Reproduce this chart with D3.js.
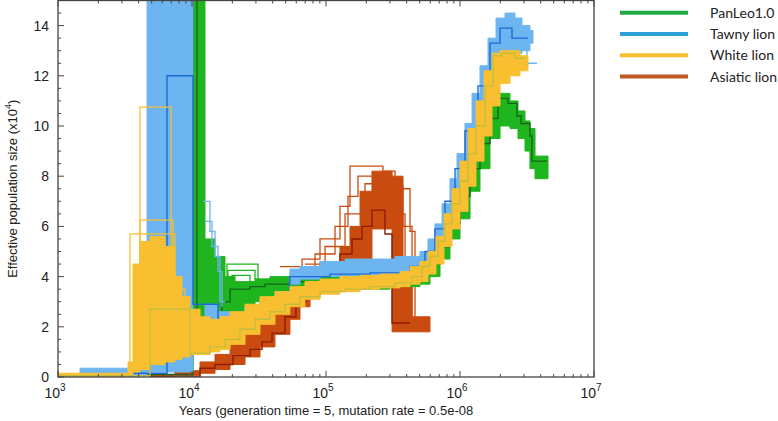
<!DOCTYPE html>
<html>
<head>
<meta charset="utf-8">
<script src="https://cdn.jsdelivr.net/npm/d3@7"></script>
<style>
  body { margin: 0; background: #fff; }
  svg { display: block; }
</style>
</head>
<body>
<div id="chart"></div>
<script>
// PSMC curves: time in years, Ne in units of 10^4, step-after
// bootstrap spread is kept as a low / high band per population

var tawnyBandT  = [1460, 3760, 4620, 10170, 12500, 15640, 19230, 24870, 32170, 41610, 53830, 63970, 90190, 138700, 213000, 327500, 423600, 502700, 576800, 650000, 734400, 841700, 950000, 1089000, 1230000, 1410000, 1618000, 1857000, 2168000, 2572000, 2901000, 3327000, 3506000];
var tawnyLo     = [0.03, 0.05, 0.2, 2.2, 2.3, 2.2, 2.0, 2.3, 2.6, 3.0, 3.7, 3.9, 4.0, 4.05, 4.05, 4.1, 4.2, 4.0, 4.3, 4.8, 5.4, 6.0, 6.8, 7.8, 8.9, 10.0, 11.2, 12.3, 12.8, 12.9, 13.0, 13.3, 13.3];
var tawnyHi     = [0.35, 0.4, 16, 2.2, 2.9, 2.6, 2.5, 2.8, 3.1, 3.4, 4.3, 4.4, 4.6, 4.7, 4.7, 4.8, 4.8, 5.0, 5.5, 6.1, 6.9, 7.9, 8.9, 10.1, 11.3, 12.4, 13.5, 14.3, 14.5, 14.3, 14.0, 13.8, 13.8];
var tawnyT      = [1000, 3445, 6510, 10170, 15640, 19230, 24870, 32170, 41610, 53830, 107100, 213000, 423600, 548300, 650000, 772700, 918000, 1089000, 1362000, 1675000, 1990000, 2443000, 3216000];
var tawnyNe     = [0.08, 0.15, 12, 2.9, 2.35, 2.3, 2.6, 2.9, 3.2, 4.0, 4.1, 4.15, 4.4, 5.0, 5.9, 7.0, 8.3, 9.8, 11.6, 13.3, 13.9, 13.5, 13.5];
var tawnyExtra  = [
  { t: [12080, 13620, 14850, 16180, 17630], ne: [7.0, 5.8, 4.8, 3.0, 3.0] },
  { t: [12500, 14100, 15640, 16750],        ne: [6.2, 5.2, 4.2, 2.8] },
  { t: [2443000, 2901000, 3162000, 3758000], ne: [13.8, 13.2, 12.5, 12.5] }
];

var greenBandT  = [10170, 12500, 14850, 17630, 20960, 29530, 38190, 53830, 76030, 107100, 179500, 300600, 423600, 502700, 597000, 709500, 841700, 1000000, 1188000, 1410000, 1675000, 1990000, 2362000, 2709000, 3055000, 3327000, 3630000, 4537000];
var greenLo     = [1.4, 1.5, 1.6, 2.0, 2.6, 3.0, 3.2, 3.3, 3.4, 3.5, 3.5, 3.6, 3.6, 3.7, 4.0, 4.7, 5.5, 6.3, 7.4, 8.3, 9.5, 10.0, 9.9, 9.5, 9.0, 8.3, 7.9, 7.9];
var greenHi     = [16, 5.5, 4.8, 4.0, 3.8, 3.9, 4.0, 4.1, 4.1, 4.1, 4.1, 4.2, 4.3, 4.6, 5.0, 5.8, 6.8, 8.0, 9.2, 10.2, 11.0, 11.3, 11.0, 10.6, 10.2, 9.9, 8.8, 8.8];
var greenT      = [1000, 3445, 10170, 10890, 14100, 16750, 19230, 27100, 35060, 53830, 107100, 213000, 423600, 597000, 709500, 841700, 1000000, 1188000, 1410000, 1675000, 1922000, 2282000, 2661000, 2851000, 3327000, 3444000, 4458000];
var greenNe     = [0.05, 0.1, 16, 1.6, 2.4, 3.0, 3.5, 3.6, 3.7, 3.8, 3.8, 3.8, 4.1, 4.5, 5.2, 6.1, 7.2, 8.3, 9.3, 10.3, 11.1, 10.9, 10.4, 10.1, 9.6, 8.6, 8.6];
var greenExtra  = [
  { t: [14850, 18250, 31090, 41610], ne: [3.6, 4.5, 3.8, 3.8] },
  { t: [15640, 18570, 29530, 38190], ne: [3.5, 4.25, 3.9, 3.9] },
  { t: [16180, 19890, 27100, 35060], ne: [3.4, 4.05, 3.7, 3.7] }
];

var whiteBandT  = [1000, 3330, 3628, 4092, 4860, 6290, 7460, 8420, 9660, 11480, 13620, 16180, 19230, 24870, 32170, 41610, 53830, 69660, 90190, 127100, 179500, 252900, 356500, 423600, 502700, 576800, 662000, 760000, 871000, 1000000, 1148000, 1316000, 1510000, 1734000, 1990000, 2362000, 2805000, 3216000];
var whiteLo     = [0.0, 0.05, 0.2, 0.3, 0.5, 0.6, 0.7, 0.8, 0.9, 0.9, 1.0, 1.1, 1.3, 1.7, 2.1, 2.5, 2.8, 3.1, 3.3, 3.4, 3.5, 3.55, 3.6, 3.7, 3.8, 4.1, 4.5, 5.2, 5.9, 6.6, 7.6, 8.6, 9.6, 10.8, 11.7, 12.0, 12.2, 12.2];
var whiteHi     = [0.15, 0.6, 4.5, 5.4, 5.6, 5.2, 4.0, 3.2, 2.7, 2.4, 2.3, 2.4, 2.6, 2.9, 3.2, 3.4, 3.6, 3.8, 3.9, 4.0, 4.05, 4.1, 4.2, 4.4, 4.6, 5.0, 5.6, 6.5, 7.5, 8.6, 9.9, 11.0, 12.2, 12.9, 13.0, 13.0, 12.8, 12.8];
var whiteT      = [1000, 4860, 9660, 13620, 17630, 22820, 29530, 38190, 49430, 63970, 90190, 138700, 213000, 327500, 438500, 520200, 597000, 685000, 772700, 871000, 1000000, 1148000, 1316000, 1538000, 1763000, 2057000, 2572000, 3055000];
var whiteNe     = [0.05, 2.7, 0.95, 1.2, 1.5, 1.9, 2.3, 2.6, 2.9, 3.2, 3.4, 3.5, 3.6, 3.75, 4.0, 4.4, 4.8, 5.4, 6.1, 6.9, 7.8, 8.9, 10.0, 11.6, 12.8, 12.9, 12.7, 12.7];
var whiteExtra  = [
  { t: [3330, 4092, 6970, 8870, 11480], ne: [0.3, 10.75, 3.5, 2.5, 2.5] },
  { t: [3445, 4092, 7230, 9300],        ne: [0.4, 6.25, 3.0, 3.0] },
  { t: [3330, 3445, 7460, 8870],        ne: [0.2, 5.7, 2.8, 2.8] }
];

var asiaBandT   = [4860, 7460, 11480, 14850, 19230, 24870, 32170, 41610, 53830, 63970, 76030, 90190, 127100, 151000, 179500, 220300, 311200, 375600, 438500, 597000];
var asiaLo      = [0.0, 0.05, 0.15, 0.3, 0.5, 0.8, 1.2, 1.7, 2.3, 2.8, 3.3, 3.9, 4.2, 4.4, 4.5, 5.9, 1.8, 1.8, 1.8, 1.8];
var asiaHi      = [0.1, 0.25, 0.6, 0.9, 1.3, 1.8, 2.4, 3.0, 3.5, 3.9, 4.2, 4.6, 5.2, 6.0, 7.4, 8.2, 8.0, 4.6, 2.4, 2.4];
var asiaT       = [4860, 11480, 14850, 20230, 27100, 33300, 39540, 49430, 59700, 70950, 87100, 103500, 127100, 156300, 185700, 220300, 275400, 311200, 423600];
var asiaNe      = [0.0, 0.35, 0.5, 0.85, 1.1, 1.4, 1.75, 2.4, 3.0, 3.6, 4.0, 4.5, 4.9, 5.5, 6.0, 6.65, 5.7, 2.15, 2.15];
var asiaExtra   = [
  { t: [45370, 66220, 90190, 127100, 151000, 266100, 327500, 375600, 438500, 502700], ne: [4.4, 4.7, 5.5, 6.8, 8.4, 8.2, 7.6, 6.0, 2.2, 2.2] },
  { t: [53830, 82800, 116800, 145900, 173300, 311200, 423600, 461500, 548300],        ne: [4.2, 4.9, 6.0, 7.2, 8.0, 7.5, 5.8, 2.0, 2.0] },
  { t: [69660, 98400, 138700, 195400, 327500, 389000, 438500],                        ne: [4.5, 5.2, 6.5, 7.7, 6.5, 2.1, 2.1] }
];

var legendNames   = ["PanLeo1.0", "Tawny lion", "White lion", "Asiatic lion"];
var legendColors  = ["#22a845", "#2c9fd9", "#f6bf2b", "#c05a22"];
var yTicks        = [0, 2, 4, 6, 8, 10, 12, 14];
var xDecades      = [3, 4, 5, 6, 7];

var width = 778, height = 421;
var plotL = 58, plotR = 594, plotT = 0.5, plotB = 377;

var svg = d3.select("#chart").append("svg")
  .attr("width", width)
  .attr("height", height)
  .style("font-family", "'Liberation Sans', Arial, sans-serif");

var x = d3.scaleLog().domain([1e3, 1e7]).range([plotL, plotR]);
var y = d3.scaleLinear().domain([0, 15]).range([plotB, plotT]);

svg.append("clipPath").attr("id", "plotclip")
  .append("rect")
  .attr("x", plotL).attr("y", plotT)
  .attr("width", plotR - plotL).attr("height", plotB - plotT);

var plot = svg.append("g").attr("clip-path", "url(#plotclip)");

function zipBand(t, lo, hi) {
  return t.map(function (d, i) { return { t: d, lo: lo[i], hi: hi[i] }; });
}
function zipLine(t, ne) {
  return t.map(function (d, i) { return { t: d, ne: ne[i] }; });
}

var band = d3.area()
  .curve(d3.curveStepAfter)
  .x(function (d) { return x(d.t); })
  .y0(function (d) { return y(d.lo); })
  .y1(function (d) { return y(Math.min(d.hi, 15.5)); });

var step = d3.line()
  .curve(d3.curveStepAfter)
  .x(function (d) { return x(d.t); })
  .y(function (d) { return y(Math.min(d.ne, 15.5)); });

var pops = [
  { T: asiaBandT,  lo: asiaLo,  hi: asiaHi,  t: asiaT,  ne: asiaNe,  extra: asiaExtra,  boot: "#c94b0f", main: "#8c1d00" },
  { T: greenBandT, lo: greenLo, hi: greenHi, t: greenT, ne: greenNe, extra: greenExtra, boot: "#1fb51f", main: "#17661a" },
  { T: tawnyBandT, lo: tawnyLo, hi: tawnyHi, t: tawnyT, ne: tawnyNe, extra: tawnyExtra, boot: "#6cb5f0", main: "#1d6ad6" },
  { T: whiteBandT, lo: whiteLo, hi: whiteHi, t: whiteT, ne: whiteNe, extra: whiteExtra, boot: "#f8bf30", main: "#c2bd3e" }
];

// each population: bootstrap band, a few outlying replicates, then its own estimate
pops.forEach(function (p) {
  plot.append("path")
    .datum(zipBand(p.T, p.lo, p.hi))
    .attr("d", band)
    .attr("fill", p.boot)
    .attr("stroke", p.boot)
    .attr("stroke-width", 1);

  p.extra.forEach(function (e) {
    plot.append("path")
      .datum(zipLine(e.t, e.ne))
      .attr("d", step)
      .attr("fill", "none")
      .attr("stroke", p.boot)
      .attr("stroke-width", 1.3);
  });

  plot.append("path")
    .datum(zipLine(p.t, p.ne))
    .attr("d", step)
    .attr("fill", "none")
    .attr("stroke", p.main)
    .attr("stroke-width", 1.4);
});

// frame
svg.append("rect")
  .attr("x", plotL).attr("y", plotT)
  .attr("width", plotR - plotL).attr("height", plotB - plotT)
  .attr("fill", "none")
  .attr("stroke", "#444")
  .attr("stroke-width", 1.3);

// x ticks (major + log minor), drawn inward on bottom and top
var ax = svg.append("g").attr("stroke", "#444").attr("stroke-width", 1);
xDecades.forEach(function (e, i) {
  var v = Math.pow(10, e);
  ax.append("line").attr("x1", x(v)).attr("x2", x(v)).attr("y1", plotB).attr("y2", plotB - 6);
  ax.append("line").attr("x1", x(v)).attr("x2", x(v)).attr("y1", plotT).attr("y2", plotT + 6);
  if (i < xDecades.length - 1) {
    for (var m = 2; m <= 9; m++) {
      var xv = x(m * v);
      ax.append("line").attr("x1", xv).attr("x2", xv).attr("y1", plotB).attr("y2", plotB - 3);
      ax.append("line").attr("x1", xv).attr("x2", xv).attr("y1", plotT).attr("y2", plotT + 3);
    }
  }
});

// y ticks
d3.range(0, 15.01, 0.5).forEach(function (v) {
  var major = yTicks.indexOf(v) >= 0;
  ax.append("line").attr("x1", plotL).attr("x2", plotL + (major ? 6 : 3))
    .attr("y1", y(v)).attr("y2", y(v));
});

var labels = svg.append("g").attr("fill", "#222");

yTicks.forEach(function (v) {
  labels.append("text")
    .attr("x", plotL - 9)
    .attr("y", y(v) + 5)
    .attr("text-anchor", "end")
    .attr("font-size", 14)
    .text(v);
});

xDecades.forEach(function (e) {
  var t = labels.append("text")
    .attr("x", x(Math.pow(10, e)) - 3)
    .attr("y", 398)
    .attr("text-anchor", "middle")
    .attr("font-size", 14);
  t.append("tspan").text("10");
  t.append("tspan").attr("dy", -7).attr("font-size", 10).text(e);
});

labels.append("text")
  .attr("x", (plotL + plotR) / 2)
  .attr("y", 415)
  .attr("text-anchor", "middle")
  .attr("font-size", 13)
  .text("Years (generation time = 5, mutation rate = 0.5e-08");

var yt = labels.append("text")
  .attr("transform", "translate(17," + ((plotT + plotB) / 2) + ") rotate(-90)")
  .attr("text-anchor", "middle")
  .attr("font-size", 13);
yt.append("tspan").text("Effective population size (x10");
yt.append("tspan").attr("dy", -6).attr("font-size", 9).text("4");
yt.append("tspan").attr("dy", 6).text(")");

// legend
var lg = svg.append("g");
legendNames.forEach(function (name, i) {
  var ly = 12.7 + i * 21.3;
  lg.append("line")
    .attr("x1", 620).attr("x2", 688)
    .attr("y1", ly).attr("y2", ly)
    .attr("stroke", legendColors[i])
    .attr("stroke-width", 4);
  lg.append("text")
    .attr("x", 710)
    .attr("y", ly + 5)
    .attr("font-family", "Lato, 'Open Sans', sans-serif")
    .attr("font-size", 14)
    .attr("fill", "#222")
    .text(name);
});
</script>
</body>
</html>
